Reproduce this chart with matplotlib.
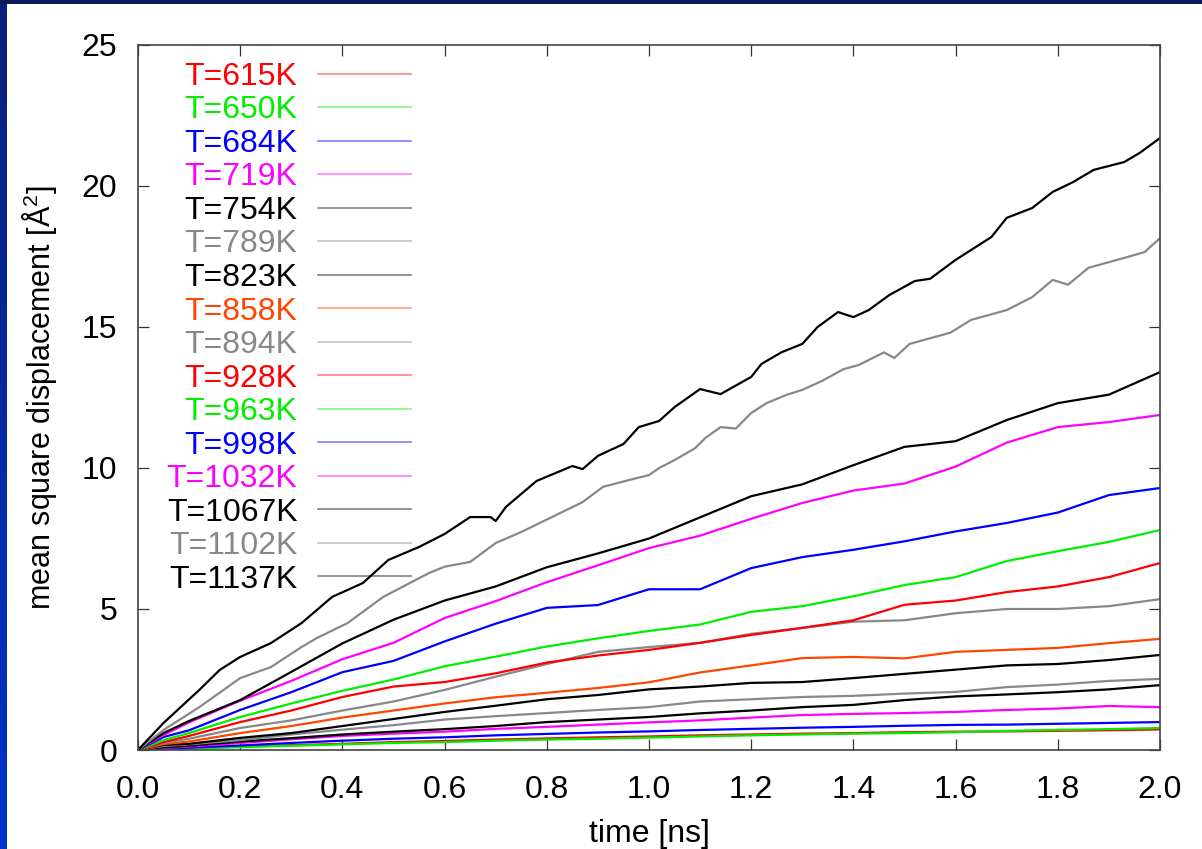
import numpy as np
import matplotlib.pyplot as plt
from matplotlib.lines import Line2D

plt.rcParams['font.family'] = ['Liberation Sans', 'DejaVu Sans']
plt.rcParams['mathtext.fontset'] = 'custom'
plt.rcParams['mathtext.rm'] = 'Liberation Sans'
plt.rcParams['mathtext.default'] = 'regular'

# --- data ---
temps = ['615', '650', '684', '719', '754', '789', '823', '858',
         '894', '928', '963', '998', '1032', '1067', '1102', '1137']
colors = ['#ff0000', '#00ee00', '#0000ff', '#ff00ff', '#000000', '#888888', '#000000', '#ff4500',
          '#888888', '#ff0000', '#00ee00', '#0000ff', '#ff00ff', '#000000', '#888888', '#000000']

t_grid = [0, 0.05, 0.1, 0.2, 0.3, 0.4, 0.5, 0.6, 0.7, 0.8, 0.9, 1.0,
          1.1, 1.2, 1.3, 1.4, 1.5, 1.6, 1.7, 1.8, 1.9, 2.0]

msd_615 = [0, 0.04, 0.07, 0.12, 0.17, 0.22, 0.28, 0.32, 0.37, 0.41, 0.45, 0.48, 0.52, 0.55, 0.58, 0.60, 0.63, 0.65, 0.66, 0.68, 0.70, 0.73]
msd_650 = [0, 0.03, 0.05, 0.10, 0.15, 0.20, 0.25, 0.28, 0.33, 0.37, 0.40, 0.44, 0.48, 0.52, 0.55, 0.58, 0.60, 0.63, 0.68, 0.71, 0.74, 0.78]
msd_684 = [0, 0.05, 0.08, 0.16, 0.25, 0.33, 0.40, 0.45, 0.52, 0.57, 0.62, 0.66, 0.71, 0.75, 0.79, 0.82, 0.86, 0.89, 0.90, 0.93, 0.96, 0.99]
msd_719 = [0, 0.08, 0.12, 0.25, 0.38, 0.50, 0.58, 0.65, 0.75, 0.82, 0.90, 0.98, 1.05, 1.15, 1.24, 1.28, 1.31, 1.35, 1.42, 1.47, 1.56, 1.52]
msd_754 = [0, 0.10, 0.15, 0.30, 0.42, 0.55, 0.65, 0.74, 0.85, 0.99, 1.08, 1.17, 1.30, 1.40, 1.52, 1.60, 1.77, 1.90, 1.97, 2.05, 2.15, 2.30]
msd_789 = [0, 0.14, 0.20, 0.35, 0.55, 0.72, 0.88, 1.08, 1.20, 1.31, 1.42, 1.52, 1.72, 1.80, 1.88, 1.92, 2.00, 2.06, 2.23, 2.32, 2.45, 2.52]
msd_823 = [0, 0.18, 0.22, 0.43, 0.60, 0.85, 1.10, 1.35, 1.57, 1.80, 1.95, 2.15, 2.25, 2.38, 2.41, 2.55, 2.70, 2.85, 3.00, 3.05, 3.19, 3.37]
msd_858 = [0, 0.21, 0.30, 0.60, 0.85, 1.15, 1.40, 1.65, 1.87, 2.03, 2.20, 2.40, 2.75, 3.00, 3.26, 3.30, 3.25, 3.48, 3.55, 3.62, 3.79, 3.94]
msd_894 = [0, 0.25, 0.40, 0.78, 1.05, 1.40, 1.72, 2.13, 2.60, 3.05, 3.48, 3.65, 3.80, 4.12, 4.33, 4.55, 4.60, 4.85, 5.00, 5.00, 5.10, 5.35]
msd_928 = [0, 0.28, 0.50, 0.99, 1.40, 1.88, 2.25, 2.41, 2.72, 3.10, 3.35, 3.55, 3.80, 4.08, 4.33, 4.60, 5.15, 5.30, 5.60, 5.80, 6.13, 6.63]
msd_963 = [0, 0.35, 0.60, 1.17, 1.65, 2.10, 2.50, 2.97, 3.31, 3.67, 3.96, 4.22, 4.45, 4.90, 5.10, 5.45, 5.85, 6.13, 6.70, 7.05, 7.38, 7.80]
msd_998 = [0, 0.46, 0.70, 1.42, 2.05, 2.76, 3.16, 3.85, 4.48, 5.04, 5.14, 5.70, 5.70, 6.45, 6.84, 7.10, 7.40, 7.75, 8.05, 8.42, 9.04, 9.29]
msd_1032 = [0, 0.53, 0.98, 1.75, 2.45, 3.22, 3.80, 4.68, 5.28, 5.95, 6.55, 7.16, 7.60, 8.20, 8.76, 9.20, 9.45, 10.05, 10.90, 11.45, 11.63, 11.88]
msd_1067 = [0, 0.60, 1.03, 1.77, 2.77, 3.78, 4.62, 5.30, 5.80, 6.48, 6.97, 7.50, 8.25, 9.00, 9.42, 10.10, 10.75, 10.95, 11.70, 12.30, 12.60, 13.40]

# the two hottest runs, read at a finer spacing
t_1102 = [0, 0.05, 0.12, 0.20, 0.26, 0.32, 0.35, 0.41, 0.48, 0.57, 0.60, 0.65, 0.70, 0.75, 0.81, 0.87,
          0.91, 0.96, 1.00, 1.02, 1.05, 1.09, 1.11, 1.14, 1.17, 1.20, 1.23, 1.27, 1.30, 1.34, 1.38,
          1.41, 1.46, 1.48, 1.51, 1.56, 1.59, 1.63, 1.70, 1.75, 1.79, 1.82, 1.86, 1.90, 1.94, 1.97, 2.0]
msd_1102 = [0, 0.71, 1.52, 2.55, 2.94, 3.65, 3.97, 4.50, 5.43, 6.28, 6.50, 6.67, 7.34, 7.73, 8.26, 8.79,
            9.33, 9.57, 9.75, 10.00, 10.28, 10.70, 11.06, 11.45, 11.40, 11.95, 12.30, 12.60, 12.77, 13.10, 13.50,
            13.65, 14.10, 13.90, 14.40, 14.65, 14.80, 15.25, 15.60, 16.06, 16.67, 16.50, 17.10, 17.30, 17.50, 17.66, 18.15]

t_1137 = [0, 0.05, 0.12, 0.16, 0.20, 0.26, 0.32, 0.38, 0.44, 0.49, 0.55, 0.60, 0.65, 0.69, 0.70, 0.72,
          0.78, 0.85, 0.87, 0.90, 0.95, 0.98, 1.02, 1.05, 1.10, 1.14, 1.20, 1.22, 1.26, 1.30, 1.33,
          1.37, 1.40, 1.43, 1.47, 1.52, 1.55, 1.60, 1.67, 1.70, 1.75, 1.79, 1.83, 1.87, 1.93, 1.96, 2.0]
msd_1137 = [0, 0.96, 2.13, 2.84, 3.30, 3.79, 4.50, 5.43, 5.92, 6.74, 7.20, 7.66, 8.26, 8.26, 8.12, 8.62,
            9.54, 10.07, 9.96, 10.43, 10.85, 11.45, 11.67, 12.16, 12.80, 12.62, 13.23, 13.69, 14.11, 14.40, 15.00,
            15.53, 15.35, 15.60, 16.13, 16.63, 16.71, 17.38, 18.19, 18.87, 19.22, 19.79, 20.14, 20.57, 20.85, 21.17, 21.70]

series = [msd_615, msd_650, msd_684, msd_719, msd_754, msd_789, msd_823, msd_858,
          msd_894, msd_928, msd_963, msd_998, msd_1032, msd_1067, msd_1102, msd_1137]
times = [t_grid] * 14 + [t_1102, t_1137]

# --- figure ---
fig = plt.figure(figsize=(12.02, 8.49), dpi=100, facecolor='white')

# slide background strips (left edge and top edge)
strip = fig.add_axes([0, 0, 7 / 1202, 1])
strip.imshow(np.linspace(0, 1, 100).reshape(-1, 1), aspect='auto',
             cmap=plt.matplotlib.colors.LinearSegmentedColormap.from_list('s', ['#0a1f78', '#0033cc']))
strip.axis('off')
top = fig.add_axes([0, 1 - 4 / 849, 1, 4 / 849])
top.set_facecolor('#0a1a5c')
top.set_xticks([])
top.set_yticks([])
for s in top.spines.values():
    s.set_visible(False)

ax = fig.add_axes([138 / 1202, 1 - 750 / 849, 1022 / 1202, 705 / 849])
for t, y, c in zip(times, series, colors):
    ax.plot(t, y, color=c, lw=1.6)

ax.set_xlim(0, 2.0)
ax.set_ylim(0, 25)
ax.set_xticks(np.arange(0, 2.01, 0.2))
ax.set_xticklabels([f'{v:.1f}' for v in np.arange(0, 2.01, 0.2)])
ax.set_yticks([0, 5, 10, 15, 20, 25])
ax.tick_params(direction='in', length=8, width=0.9, top=True, right=True, labelsize=23, color='#333333')
ax.tick_params(axis='x', pad=18)
ax.tick_params(axis='y', pad=15)
for s in ax.spines.values():
    s.set_color('#444444')
    s.set_linewidth(1.2)

ax.set_xlabel('time [ns]', fontsize=23, labelpad=10)
ax.set_ylabel('mean square displacement [Å$^2$]', fontsize=22, labelpad=16)

handles = [Line2D([], [], color=c, lw=1.2, alpha=0.5) for c in colors]
labels = [f'T={k}K' for k in temps]
ax.legend(handles, labels, loc='upper right', bbox_to_anchor=(0.267, 0.976),
          frameon=False, markerfirst=False, fontsize=23, labelcolor=colors,
          handlelength=2.9, handletextpad=0.65, labelspacing=0.11,
          borderpad=0, borderaxespad=0)

fig.savefig('out.png', dpi=100, facecolor='white')
